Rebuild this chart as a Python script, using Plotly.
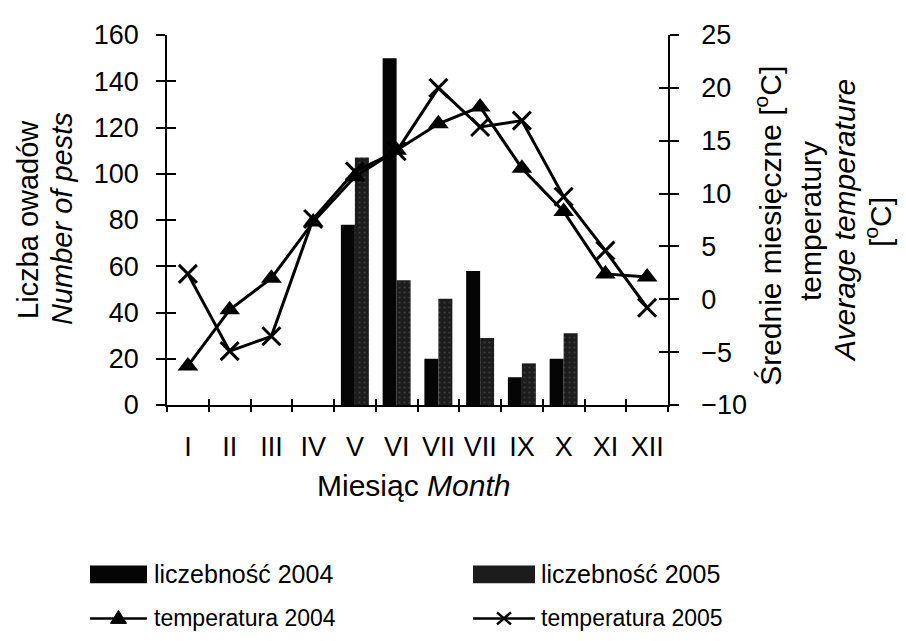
import plotly.graph_objects as go

# ---------------- data ----------------
months = ["I", "II", "III", "IV", "V", "VI", "VII", "VII", "IX", "X", "XI", "XII"]
count_2004 = [0, 0, 0, 0, 78, 150, 20, 58, 12, 20, 0, 0]
count_2005 = [0, 0, 0, 0, 107, 54, 46, 29, 18, 31, 0, 0]
temp_2004 = [-6.3, -1.0, 2.0, 7.3, 11.6, 14.1, 16.6, 18.2, 12.4, 8.3, 2.4, 2.1]
temp_2005 = [2.4, -4.9, -3.5, 7.6, 12.1, 14.0, 20.0, 16.3, 16.9, 9.7, 4.6, -0.8]
count_ticks = [0, 20, 40, 60, 80, 100, 120, 140, 160]
temp_ticks = [-10, -5, 0, 5, 10, 15, 20, 25]

series_names = ["liczebność 2004", "liczebność 2005", "temperatura 2004", "temperatura 2005"]

# ---------------- layout geometry (page pixels) ----------------
PAGE_W, PAGE_H = 906, 641
OFF = 8                      # default body margin of the html page
W, H = PAGE_W - 2 * OFF, PAGE_H - 2 * OFF
L, R, T, B = 167, 668, 27, 405   # plot area in page pixels
pw, ph = R - L, B - T


def px(xp):
    return (xp - L) / pw


def py(yp):
    return (B - yp) / ph


FONT = "Liberation Sans, Arial, Helvetica, sans-serif"
xpos = list(range(1, len(months) + 1))
bounds = [i + 0.5 for i in range(0, len(months) + 1)]

fig = go.Figure()

fig.add_trace(go.Bar(x=xpos, y=count_2004, name=series_names[0], marker_color="#050505",
                     marker_line_width=0, showlegend=False, xaxis="x", yaxis="y"))
fig.add_trace(go.Bar(x=xpos, y=count_2005, name=series_names[1], marker_color="#1c1c1c",
                     marker_line_width=0,
                     marker_pattern=dict(shape=".", fgcolor="#5a5a5a", size=5, solidity=0.15),
                     showlegend=False, xaxis="x", yaxis="y"))
fig.add_trace(go.Scatter(x=xpos, y=temp_2004, name=series_names[2], mode="lines+markers",
                         line=dict(color="black", width=3),
                         marker=dict(symbol="triangle-up", size=18, color="black"),
                         showlegend=False, xaxis="x", yaxis="y2"))
fig.add_trace(go.Scatter(x=xpos, y=temp_2005, name=series_names[3], mode="lines+markers",
                         line=dict(color="black", width=3),
                         marker=dict(symbol="x-thin", size=18, color="black",
                                     line=dict(color="black", width=3)),
                         showlegend=False, xaxis="x", yaxis="y2"))

# dummy traces to anchor overlay axes used for "cross" tick marks
for xa, ya in [("x3", "y"), ("x4", "y"), ("x", "y3"), ("x", "y4")]:
    fig.add_trace(go.Scatter(x=[None], y=[None], xaxis=xa, yaxis=ya, showlegend=False,
                             hoverinfo="skip"))

axis_common = dict(showgrid=False, zeroline=False, linecolor="black", tickcolor="black",
                   tickwidth=1.5, linewidth=1.5)
plain_ticks = dict(showticklabels=False, showline=False, showgrid=False, zeroline=False,
                   tickcolor="black", tickwidth=1.5)

fig.update_layout(
    width=W, height=H,
    margin=dict(l=L - OFF, r=W - (R - OFF), t=T - OFF, b=H - (B - OFF)),
    paper_bgcolor="white", plot_bgcolor="white",
    font=dict(family=FONT, color="black", size=27),
    barmode="group", bargap=0.33, bargroupgap=0,
    showlegend=False,
    xaxis=dict(range=[0.5, len(months) + 0.5], tickmode="array", tickvals=xpos, ticktext=months,
               ticks="", showline=True, tickfont=dict(size=27), ticklabelstandoff=17,
               **axis_common),
    xaxis3=dict(overlaying="x", anchor="y", range=[0.5, len(months) + 0.5], tickmode="array",
                tickvals=bounds, ticks="outside", ticklen=6, **plain_ticks),
    xaxis4=dict(overlaying="x", anchor="y", range=[0.5, len(months) + 0.5], tickmode="array",
                tickvals=bounds, ticks="inside", ticklen=6, **plain_ticks),
    yaxis=dict(range=[0, 160], tickmode="array", tickvals=count_ticks, ticks="outside",
               ticklen=9, showline=True, tickfont=dict(size=27), ticklabelstandoff=12,
               **axis_common),
    yaxis3=dict(overlaying="y", side="left", range=[0, 160], tickmode="array",
                tickvals=count_ticks, ticks="inside", ticklen=9, **plain_ticks),
    yaxis2=dict(overlaying="y", side="right", anchor="x", range=[-10, 25], tickmode="array",
                tickvals=temp_ticks, ticks="outside", ticklen=9, showline=True,
                tickfont=dict(size=27), ticklabelstandoff=17, **axis_common),
    yaxis4=dict(overlaying="y", side="right", anchor="x", range=[-10, 25], tickmode="array",
                tickvals=temp_ticks, ticks="inside", ticklen=9, **plain_ticks),
)

ann = []
# axis titles
ann.append(dict(text="Miesiąc <i>Month</i>", x=px(413), y=py(487), xref="paper", yref="paper",
                showarrow=False, font=dict(size=30), xanchor="center", yanchor="middle"))
ann.append(dict(text="Liczba owadów", x=px(28), y=py(216), xref="paper", yref="paper",
                showarrow=False, textangle=-90, font=dict(size=29), xanchor="center", yanchor="middle"))
ann.append(dict(text="<i>Number of pests</i>", x=px(62), y=py(215), xref="paper", yref="paper",
                showarrow=False, textangle=-90, font=dict(size=29), xanchor="center", yanchor="middle"))
right_titles = [("Średnie miesięczne [<sup>o</sup>C]", 768, 222),
                ("temperatury", 811, 217),
                ("<i>Average temperature</i>", 845, 217),
                ("[<sup>o</sup>C]", 878, 218)]
for txt, xp, yp in right_titles:
    ann.append(dict(text=txt, x=px(xp), y=py(yp), xref="paper", yref="paper", showarrow=False,
                    textangle=-90, font=dict(size=30), xanchor="center", yanchor="middle"))

# manual legend
shapes = []
leg_rows = [578, 623]
leg_cols = [(90, 147, 152), (473, 535, 539)]
shapes.append(dict(type="rect", xref="paper", yref="paper", x0=px(leg_cols[0][0]), x1=px(leg_cols[0][1]),
                   y0=py(leg_rows[0] + 9), y1=py(leg_rows[0] - 9), fillcolor="#050505", line_width=0))
shapes.append(dict(type="rect", xref="paper", yref="paper", x0=px(leg_cols[1][0]), x1=px(leg_cols[1][1]),
                   y0=py(leg_rows[0] + 9), y1=py(leg_rows[0] - 9), fillcolor="#1c1c1c", line_width=0))
for c in leg_cols:
    shapes.append(dict(type="line", xref="paper", yref="paper", x0=px(c[0]), x1=px(c[1]),
                       y0=py(leg_rows[1]), y1=py(leg_rows[1]), line=dict(color="black", width=2.5)))
tx = (leg_cols[0][0] + leg_cols[0][1]) / 2
shapes.append(dict(type="path", xref="paper", yref="paper", xsizemode="pixel", ysizemode="pixel",
                   xanchor=px(tx), yanchor=py(leg_rows[1]),
                   path="M -8 -5 L 8 -5 L 0 8 Z", fillcolor="black", line=dict(color="black", width=1)))
xx = (leg_cols[1][0] + leg_cols[1][1]) / 2
for sgn in (1, -1):
    shapes.append(dict(type="line", xref="paper", yref="paper", xsizemode="pixel", ysizemode="pixel",
                       xanchor=px(xx), yanchor=py(leg_rows[1]), x0=-7, x1=7, y0=-6 * sgn, y1=6 * sgn,
                       line=dict(color="black", width=2.5)))

legend_sizes = [25, 25, 23, 23]
for i, (col, row) in enumerate([(0, 0), (1, 0), (0, 1), (1, 1)]):
    ann.append(dict(text=series_names[i], x=px(leg_cols[col][2]), y=py(leg_rows[row]),
                    xref="paper", yref="paper", showarrow=False, xanchor="left", yanchor="middle",
                    font=dict(size=legend_sizes[i])))

fig.update_layout(annotations=ann, shapes=shapes)

fig.write_html("out.html")
